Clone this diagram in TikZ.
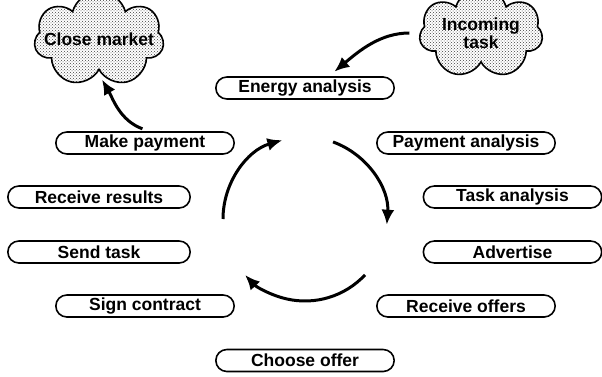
\documentclass[tikz,border=0pt]{standalone}
\usepackage{fontspec}
\setmainfont{Liberation Sans}
\usetikzlibrary{shapes.misc,shapes.symbols,patterns,arrows.meta}

\begin{document}
\begin{tikzpicture}[x=1pt,y=1pt,
    >={Latex[length=15pt,width=13pt]},
    stage/.style={draw,rounded rectangle,line width=1.6pt,minimum width=185pt,
      minimum height=22pt,inner ysep=0pt,font=\fontsize{17.5}{20}\selectfont\bfseries},
    market/.style={draw,cloud,cloud puffs=7,aspect=2,line width=1.6pt,
      pattern=crosshatch dots,pattern color=black!75,
      inner sep=0pt,align=center,font=\fontsize{17.5}{18}\selectfont\bfseries},
    flow/.style={->,line width=3pt}]
        \useasboundingbox (0,0) rectangle (602,-377);
        \node[market,inner xsep=-12pt,inner ysep=-4pt] (closemkt) at (99,-39) {Close market};
        \node[market,inner xsep=2pt,inner ysep=-6pt] (incoming) at (481,-33) {Incoming\\task};
        \node[stage] (energy) at (305,-88) {Energy analysis};
        \node[stage] (payana) at (466,-143) {Payment analysis};
        \node[stage] (taskana) at (512.5,-197) {Task analysis};
        \node[stage] (advertise) at (512.5,-252) {Advertise};
        \node[stage] (recoffers) at (466,-306) {Receive offers};
        \node[stage] (choose) at (305,-360.5) {Choose offer};
        \node[stage] (sign) at (145,-306) {Sign contract};
        \node[stage,minimum width=189pt] (sendtask) at (99,-252) {Send task};
        \node[stage,minimum width=189pt] (recresults) at (99,-197) {Receive results};
        \node[stage] (payment) at (145,-143) {Make payment};
        \coordinate (hub) at (305,-219);
        \draw[flow,shorten <=10pt,shorten >=7pt] (incoming.west) to[out=180,in=40] ([xshift=24pt]energy.north);
        \draw[flow,shorten <=7pt,shorten >=10pt] ([xshift=4pt]payment.north) to[out=160,in=-60] ([xshift=-2pt]closemkt.south);
        \draw[flow] ([shift={(70:82)}]hub) arc[start angle=70,end angle=-4,radius=82];
        \draw[flow] ([shift={(-43:82)}]hub) arc[start angle=-43,end angle=-137,radius=82];
        \draw[flow] ([shift={(180:82)}]hub) arc[start angle=180,end angle=106,radius=82];
\end{tikzpicture}
\end{document}
